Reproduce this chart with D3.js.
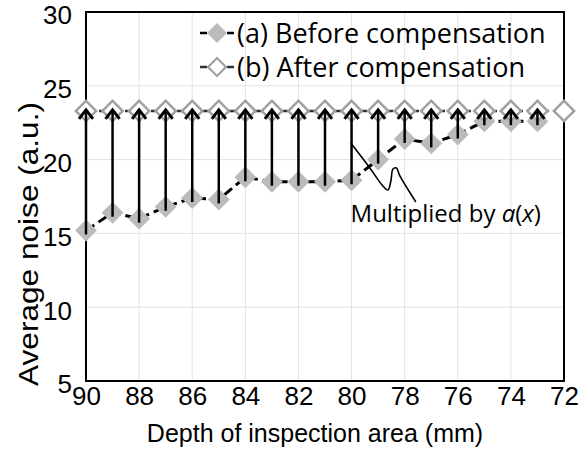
<!DOCTYPE html>
<html>
<head>
<meta charset="utf-8">
<script src="https://cdn.jsdelivr.net/npm/d3@7"></script>
<style>
  body { margin: 0; background: #fff; }
  svg { display: block; }
  .tick text { font-family: "Liberation Sans", Arial, sans-serif; }
</style>
</head>
<body>
<svg id="chart" width="584" height="457"></svg>
<script>
// depth (mm) and noise values
let depths = [90, 89, 88, 87, 86, 85, 84, 83, 82, 81, 80, 79, 78, 77, 76, 75, 74, 73, 72];
let before = [15.2, 16.4, 16.0, 16.8, 17.4, 17.3, 18.8, 18.5, 18.5, 18.5, 18.6, 20.0, 21.4, 21.1, 21.7, 22.6, 22.6, 22.6];
let after = [23.3, 23.3, 23.3, 23.3, 23.3, 23.3, 23.3, 23.3, 23.3, 23.3, 23.3, 23.3, 23.3, 23.3, 23.3, 23.3, 23.3, 23.3, 23.3];
let xTicks = [90, 88, 86, 84, 82, 80, 78, 76, 74, 72];
let yTicks = [5, 10, 15, 20, 25, 30];
let seriesNames = ["(a) Before compensation", "(b) After compensation"];
// squiggle of the annotation, in data units (depth, noise)
let noteCurve = [[80.03, 21.12], [79.31, 19.43], [78.82, 18.21], [78.63, 17.94], [78.52, 18.55],
                 [78.44, 19.36], [78.31, 19.43], [78.18, 18.89], [77.58, 17.13]];

let svg = d3.select("#chart");
let margin = { top: 12, right: 20, bottom: 76, left: 86 };
let plotWidth = 584 - margin.left - margin.right;
let plotHeight = 457 - margin.top - margin.bottom;

let x = d3.scaleLinear().domain([90, 72]).range([0, plotWidth]);
let y = d3.scaleLinear().domain([5, 30]).range([plotHeight, 0]);

let plot = svg.append("g").attr("transform", "translate(" + margin.left + "," + margin.top + ")");

// grid
plot.append("g").selectAll("line.gx")
  .data(xTicks).enter().append("line")
  .attr("x1", d => x(d)).attr("x2", d => x(d))
  .attr("y1", 0).attr("y2", plotHeight)
  .attr("stroke", "#e3e3e3").attr("stroke-width", 1);
plot.append("g").selectAll("line.gy")
  .data(yTicks).enter().append("line")
  .attr("x1", 0).attr("x2", plotWidth)
  .attr("y1", d => y(d)).attr("y2", d => y(d))
  .attr("stroke", "#e3e3e3").attr("stroke-width", 1);

// axes (labels only, no tick marks)
let xAxis = d3.axisBottom(x).tickValues(xTicks).tickSize(0).tickPadding(6).tickFormat(d3.format("d"));
let yAxis = d3.axisLeft(y).tickValues(yTicks).tickSize(0).tickPadding(14);

let xGroup = plot.append("g").attr("transform", "translate(0," + plotHeight + ")").call(xAxis);
let yGroup = plot.append("g").call(yAxis);
[xGroup, yGroup].forEach(g => {
  g.select(".domain").remove();
  g.selectAll("text").attr("font-size", 26).attr("fill", "#000");
});
yGroup.selectAll("text").attr("dy", "0.46em");

// frame
plot.append("rect")
  .attr("width", plotWidth).attr("height", plotHeight)
  .attr("fill", "none").attr("stroke", "#000").attr("stroke-width", 2);

let diamond = d3.symbol().type(d3.symbolSquare).size(240);

// series lines
let lineA = d3.line().x((d, i) => x(depths[i])).y(d => y(d));
plot.append("path").datum(after)
  .attr("d", lineA)
  .attr("fill", "none").attr("stroke", "#333").attr("stroke-width", 2.5)
  .attr("stroke-dasharray", "8,5");
plot.append("path").datum(before)
  .attr("d", lineA)
  .attr("fill", "none").attr("stroke", "#000").attr("stroke-width", 3)
  .attr("stroke-dasharray", "10,5");

// before markers
plot.append("g").selectAll("path")
  .data(before).enter().append("path")
  .attr("d", diamond)
  .attr("transform", (d, i) => "translate(" + x(depths[i]) + "," + y(d) + ") rotate(45)")
  .attr("fill", "#bbbbbb");

// after markers
plot.append("g").selectAll("path")
  .data(after).enter().append("path")
  .attr("d", d3.symbol().type(d3.symbolSquare).size(205))
  .attr("transform", (d, i) => "translate(" + x(depths[i]) + "," + y(d) + ") rotate(45)")
  .attr("fill", "#fff").attr("stroke", "#a0a0a0").attr("stroke-width", 2.5);

// arrows from before to after
let arrows = plot.append("g").selectAll("g")
  .data(before).enter().append("g");
arrows.append("line")
  .attr("x1", (d, i) => x(depths[i])).attr("x2", (d, i) => x(depths[i]))
  .attr("y1", d => y(d) + 4).attr("y2", (d, i) => y(after[i]) + 1)
  .attr("stroke", "#000").attr("stroke-width", 2.5);
arrows.append("path")
  .attr("d", (d, i) => {
    let cx = x(depths[i]), ty = y(after[i]) - 1;
    return "M" + (cx - 7) + "," + (ty + 9) + "L" + cx + "," + ty + "L" + (cx + 7) + "," + (ty + 9);
  })
  .attr("fill", "none").attr("stroke", "#000").attr("stroke-width", 3)
  .attr("stroke-linejoin", "miter");

// annotation
plot.append("path").datum(noteCurve)
  .attr("d", d3.line().x(d => x(d[0])).y(d => y(d[1])).curve(d3.curveCatmullRom))
  .attr("fill", "none").attr("stroke", "#000").attr("stroke-width", 1.6);
let note = plot.append("text")
  .attr("x", x(80) - 1).attr("y", 222 - margin.top)
  .attr("font-family", "'Open Sans', sans-serif").attr("font-size", 24).attr("fill", "#000");
note.append("tspan").text("Multiplied by ");
note.append("tspan").attr("font-style", "italic").text("a");
note.append("tspan").text("(");
note.append("tspan").attr("font-style", "italic").text("x");
note.append("tspan").text(")");

// legend
let legend = plot.append("g").attr("transform", "translate(131,21)");
seriesNames.forEach((name, k) => {
  let row = legend.append("g").attr("transform", "translate(0," + (k * 34) + ")");
  row.append("line").attr("x1", -17).attr("x2", 17)
    .attr("stroke", k === 0 ? "#000" : "#333").attr("stroke-width", 2.5)
    .attr("stroke-dasharray", "7,20");
  row.append("path")
    .attr("d", d3.symbol().type(d3.symbolSquare).size(k === 0 ? 200 : 160))
    .attr("transform", "rotate(45)")
    .attr("fill", k === 0 ? "#bbbbbb" : "#fff")
    .attr("stroke", k === 0 ? "none" : "#a0a0a0").attr("stroke-width", 2.2);
  row.append("text").attr("x", 20).attr("y", 10)
    .attr("font-family", "'Open Sans', sans-serif").attr("font-size", 27).attr("fill", "#000")
    .text(name);
});

// axis titles
svg.append("text")
  .attr("x", 315).attr("y", 442)
  .attr("text-anchor", "middle")
  .attr("font-family", "'Liberation Sans', Arial, sans-serif").attr("font-size", 25)
  .text("Depth of inspection area (mm)");
svg.append("text")
  .attr("transform", "translate(38,244) rotate(-90)")
  .attr("text-anchor", "middle")
  .attr("font-family", "'Liberation Sans', Arial, sans-serif").attr("font-size", 27)
  .attr("textLength", 284).attr("lengthAdjust", "spacingAndGlyphs")
  .text("Average noise (a.u.)");
</script>
</body>
</html>
